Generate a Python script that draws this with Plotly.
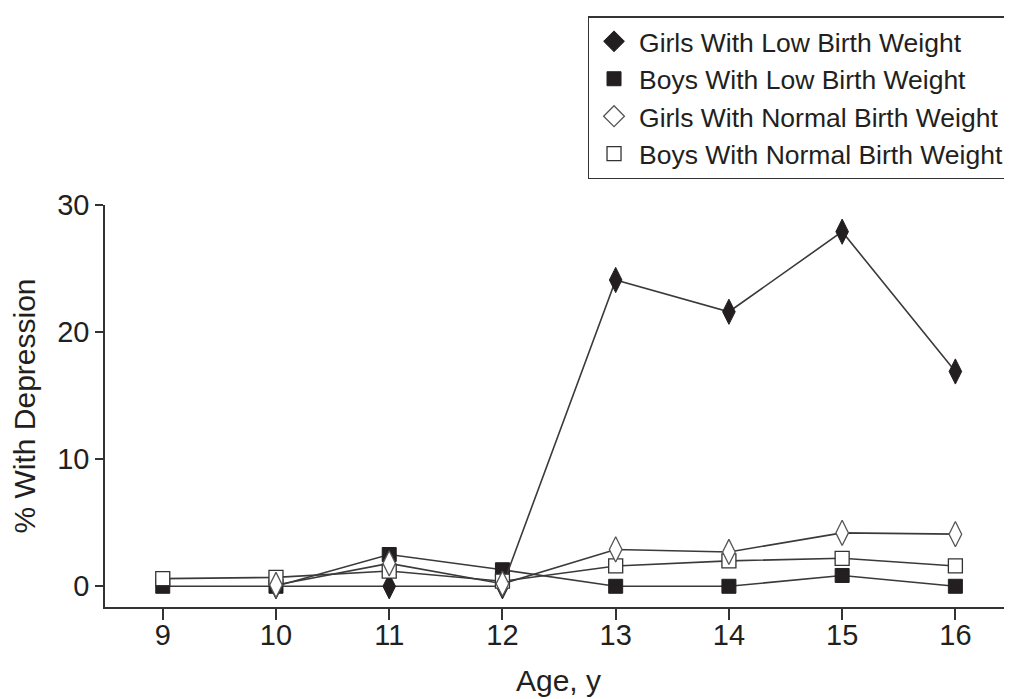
import plotly.graph_objects as go

ages = [9, 10, 11, 12, 13, 14, 15, 16]
girls_low = [None, 0.0, 0.0, 0.0, 24.1, 21.6, 27.9, 16.9]
boys_low = [0.0, 0.0, 2.5, 1.3, 0.0, 0.0, 0.85, 0.0]
girls_normal = [None, 0.1, 1.8, 0.2, 2.9, 2.7, 4.2, 4.1]
boys_normal = [0.6, 0.7, 1.2, 0.4, 1.6, 2.0, 2.2, 1.6]

series_names = ["Girls With Low Birth Weight", "Boys With Low Birth Weight",
                "Girls With Normal Birth Weight", "Boys With Normal Birth Weight"]

INK = "#231f20"
LINE = "#3a3a3a"
FONT = "Liberation Sans, Arial"

styles = [
    dict(symbol="diamond-tall", size=18, color=INK, line=dict(color=INK, width=1)),
    dict(symbol="square", size=14, color=INK, line=dict(color=INK, width=1)),
    dict(symbol="diamond-tall", size=18, color="white", line=dict(color="#555555", width=1.3)),
    dict(symbol="square", size=14, color="white", line=dict(color="#333333", width=1.3)),
]
data = [girls_low, boys_low, girls_normal, boys_normal]

fig = go.Figure()
# drawing order (bottom to top): boys low, girls low, boys normal, girls normal
for idx in [1, 0, 3, 2]:
    fig.add_trace(go.Scatter(x=ages, y=data[idx], mode="lines+markers",
                             name=series_names[idx],
                             line=dict(color=LINE, width=1.6), marker=styles[idx],
                             showlegend=False))
for name, st in zip(series_names, styles):
    leg_marker = dict(st)
    leg_marker["symbol"] = st["symbol"].replace("-tall", "")
    leg_marker["size"] = 16 if "diamond" in st["symbol"] else 14
    fig.add_trace(go.Scatter(x=[None], y=[None], mode="markers", name=name,
                             marker=leg_marker, showlegend=True))

fig.update_layout(
    width=1012, height=699,
    margin=dict(l=97, r=8, t=191, b=100),
    plot_bgcolor="white", paper_bgcolor="white",
    font=dict(family=FONT, color=INK, size=28),
    legend=dict(x=0.532, y=1.47, xanchor="left", yanchor="top",
                bordercolor="#333333", borderwidth=1.5, bgcolor="white",
                font=dict(size=26.5, family=FONT, color=INK),
                tracegroupgap=0, itemwidth=40),
    xaxis=dict(range=[8.49, 16.5], tickvals=ages, ticktext=[str(a) for a in ages],
               showline=True, linecolor="#333333", linewidth=1.5,
               ticks="outside", ticklen=11, tickwidth=1.5, tickcolor="#333333",
               showgrid=False, zeroline=False, automargin=False,
               ticklabelstandoff=-10,
               tickfont=dict(size=29, family=FONT, color=INK),
               title=dict(text="Age, y", font=dict(size=30, family=FONT, color=INK), standoff=20)),
    yaxis=dict(range=[-1.63, 30], tickvals=[0, 10, 20, 30],
               showline=True, linecolor="#333333", linewidth=1.5,
               ticks="outside", ticklen=8, tickwidth=1.5, tickcolor="#333333",
               showgrid=False, zeroline=False, automargin=False,
               tickfont=dict(size=29, family=FONT, color=INK),
               title=dict(text="% With Depression", font=dict(size=30, family=FONT, color=INK), standoff=14)),
)

fig.write_html("out.html")
